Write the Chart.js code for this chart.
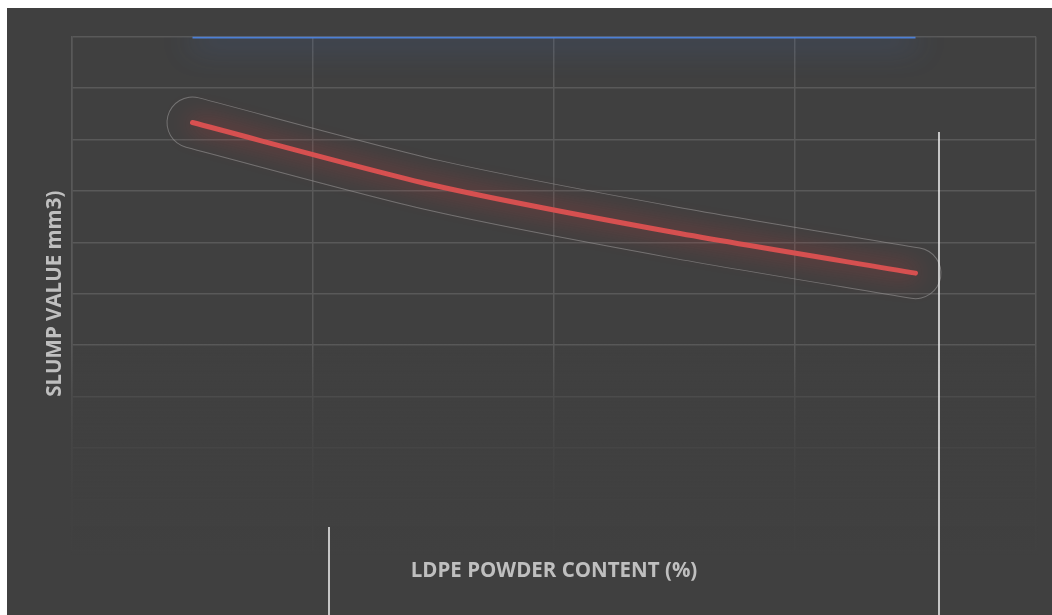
<!DOCTYPE html>
<html>
<head>
<meta charset="utf-8">
<script src="https://cdn.jsdelivr.net/npm/chart.js@4"></script>
<style>
  body { margin: 0; background: #ffffff; }
  #wrap { position: absolute; left: 7px; top: 8px; width: 1045px; height: 607px; background: #404040; }
</style>
</head>
<body>
<div id="wrap"><canvas id="slumpChart"></canvas></div>
<script>
const ldpeContent = ["0", "5", "10", "15"]; // nhãn trục x (ẩn)
const referenceSlump = [100, 100, 100, 100];
const ldpeSlump = [83.3, 71.1, 61.9, 54.0];
const yTicks = [0, 10, 20, 30, 40, 50, 60, 70, 80, 90, 100];

const gridColor = "#595959";
const titleFont = { family: "'Open Sans', sans-serif", size: 20.5, weight: "bold" };

// glow cho từng đường
const glowPlugin = {
  id: "glow",
  beforeDatasetDraw(chart, args) {
    const ctx = chart.ctx;
    ctx.save();
    if (args.index === 0) {
      ctx.shadowColor = "rgba(70, 120, 215, 0.9)";
      ctx.shadowBlur = 30;
      ctx.shadowOffsetY = 4;
    } else {
      ctx.shadowColor = "rgba(220, 55, 55, 0.85)";
      ctx.shadowBlur = 24;
    }
  },
  afterDatasetDraw(chart) {
    chart.ctx.restore();
  },
};

// làm mờ phần dưới vùng vẽ + viền quanh đường đỏ
const backdropPlugin = {
  id: "backdrop",
  beforeDatasetsDraw(chart) {
    const { ctx, chartArea } = chart;
    const h = chartArea.bottom - chartArea.top;
    const y0 = chartArea.top + h * 0.59;
    const g = ctx.createLinearGradient(0, y0, 0, chartArea.bottom + 2);
    g.addColorStop(0, "rgba(64,64,64,0)");
    g.addColorStop(0.27, "rgba(64,64,64,0.55)");
    g.addColorStop(0.51, "rgba(64,64,64,0.8)");
    g.addColorStop(0.75, "rgba(64,64,64,0.95)");
    g.addColorStop(1, "rgba(64,64,64,0.97)");
    ctx.save();
    ctx.fillStyle = g;
    ctx.fillRect(chartArea.left - 2, y0, chartArea.right - chartArea.left + 4, chartArea.bottom + 4 - y0);
    ctx.restore();

    const line = chart.getDatasetMeta(1).dataset;
    if (!line || !line.points || !line.points.length) return;
    const off = document.createElement("canvas");
    off.width = chart.canvas.width;
    off.height = chart.canvas.height;
    const o = off.getContext("2d");
    const r = chart.currentDevicePixelRatio;
    o.scale(r, r);
    o.lineCap = "round";
    o.lineJoin = "round";
    o.beginPath();
    line.path(o);
    o.strokeStyle = "rgba(150,150,150,0.6)";
    o.lineWidth = 52;
    o.stroke();
    o.globalCompositeOperation = "destination-out";
    o.strokeStyle = "#000";
    o.lineWidth = 50;
    o.stroke();
    ctx.drawImage(off, 0, 0, chart.width, chart.height);
  },
  afterDraw(chart) {
    // hai vạch trắng như ảnh gốc
    const ctx = chart.ctx;
    ctx.save();
    ctx.strokeStyle = "#f2f2f2";
    ctx.lineWidth = 1.5;
    ctx.beginPath();
    ctx.moveTo(932, 124);
    ctx.lineTo(932, chart.height);
    ctx.moveTo(322, 519);
    ctx.lineTo(322, chart.height);
    ctx.stroke();
    ctx.restore();
  },
};

const slumpChart = new Chart(document.getElementById("slumpChart").getContext("2d"), {
  type: "line",
  data: {
    labels: ldpeContent,
    datasets: [
      {
        label: "Reference",
        data: referenceSlump,
        borderColor: "#4d80d6",
        borderWidth: 3.5,
        pointRadius: 0,
        tension: 0,
      },
      {
        label: "Slump",
        data: ldpeSlump,
        borderColor: "#d65050",
        borderWidth: 5,
        borderCapStyle: "round",
        pointRadius: 0,
        tension: 0.25,
      },
    ],
  },
  options: {
    responsive: true,
    maintainAspectRatio: false,
    animation: false,
    layout: { padding: { left: 35.7, right: 16, top: 28.7, bottom: 31.2 } },
    plugins: { legend: { display: false }, tooltip: { enabled: false } },
    scales: {
      x: {
        offset: true,
        grid: { offset: true, color: gridColor, lineWidth: 1.5, drawTicks: false },
        border: { color: gridColor, width: 1.5 },
        ticks: { display: false },
        title: {
          display: true,
          text: "LDPE POWDER CONTENT (%)",
          color: "#bfbfbf",
          font: titleFont,
          padding: { top: 8.5, bottom: 0 },
        },
      },
      y: {
        min: yTicks[0],
        max: yTicks[yTicks.length - 1],
        afterBuildTicks: (axis) => {
          axis.ticks = yTicks.map((v) => ({ value: v }));
        },
        grid: { color: gridColor, lineWidth: 1.5, drawTicks: false },
        border: { color: gridColor, width: 1.5 },
        ticks: { display: false },
        title: {
          display: true,
          text: "SLUMP VALUE mm3)",
          color: "#bfbfbf",
          font: titleFont,
          padding: { top: 0, bottom: 4.7 },
        },
      },
    },
  },
  plugins: [glowPlugin, backdropPlugin],
});
</script>
</body>
</html>
